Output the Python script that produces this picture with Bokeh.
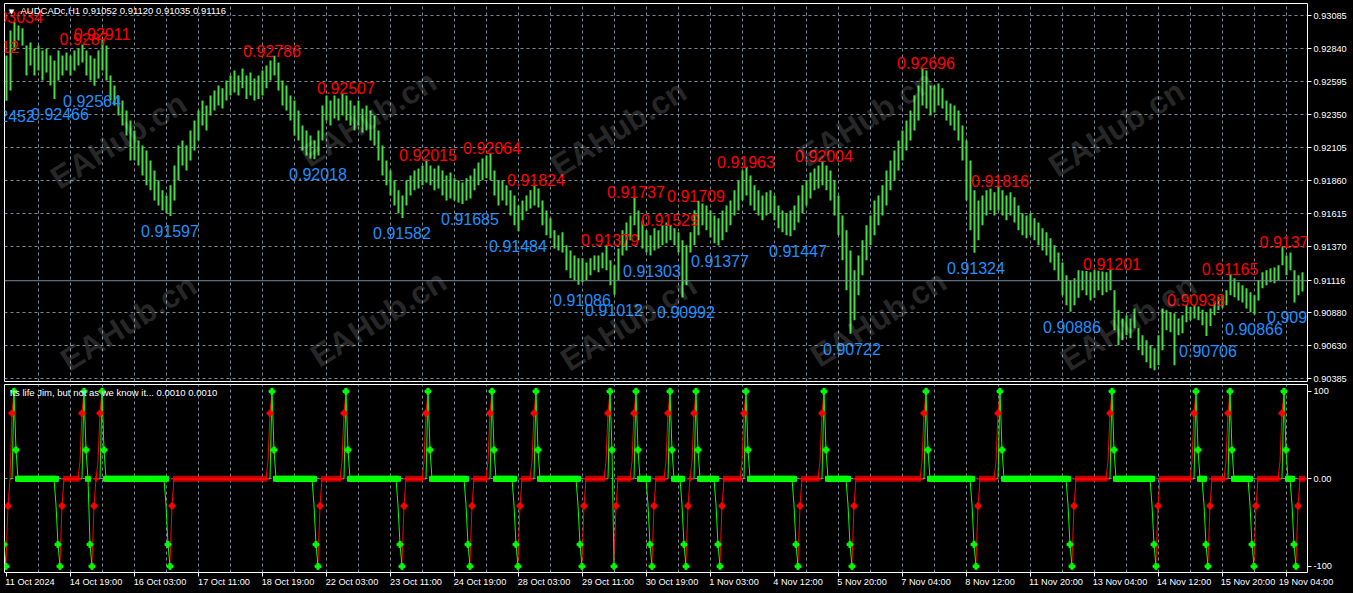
import math
from bokeh.plotting import figure
from bokeh.layouts import column
from bokeh.models import (FixedTicker, Grid, Label, Range1d, Span, AllLabels,
                          GlobalInlineStyleSheet)
from bokeh.core.properties import value
from bokeh.embed import file_html
from bokeh.resources import INLINE

# ---------------------------------------------------------------- data
SYMBOL = "AUDCADc,H1"
LAST_OHLC = ["0.91052", "0.91120", "0.91035", "0.91116"]
# prices are given in points (0.00001) above 0.90000
LAST_PRICE = 1116
LAST_PRICE_TEXT = "0.91116"

# two-hour bars (each one covers two H1 bars of the chart)
BAR_HIGH = [
    2788, 2974, 3034, 3011, 2990, 2862, 2885, 2840, 2862, 2825,
    2840, 2788, 2751, 2825, 2788, 2810, 2788, 2825, 2840, 2870,
    2825, 2788, 2766, 2825, 2911, 2862, 2640, 2566, 2491, 2454,
    2380, 2306, 2232, 2157, 2120, 2083, 2009, 1935, 1861, 1787,
    1749, 1824, 1972, 2120, 2157, 2120, 2232, 2306, 2380, 2454,
    2417, 2491, 2529, 2566, 2544, 2603, 2640, 2677, 2640, 2692,
    2640, 2662, 2618, 2640, 2677, 2714, 2751, 2786, 2736, 2603,
    2566, 2491, 2454, 2380, 2269, 2232, 2195, 2157, 2232, 2417,
    2491, 2454, 2491, 2469, 2507, 2491, 2454, 2417, 2454, 2395,
    2417, 2380, 2343, 2232, 2120, 2009, 1935, 1861, 1787, 1749,
    1861, 1898, 1935, 1950, 1972, 2015, 1972, 1950, 1972, 1935,
    1898, 1920, 1876, 1861, 1846, 1876, 1898, 1950, 1994, 2024,
    2046, 2064, 1935, 1861, 1861, 1824, 1787, 1749, 1675, 1712,
    1749, 1787, 1824, 1801, 1712, 1638, 1579, 1490, 1453, 1475,
    1379, 1341, 1304, 1282, 1282, 1252, 1282, 1304, 1304, 1326,
    1379, 1267, 1230, 1356, 1490, 1549, 1601, 1737, 1638, 1564,
    1490, 1453, 1505, 1490, 1527, 1549, 1529, 1505, 1475, 1416,
    1379, 1475, 1640, 1709, 1690, 1675, 1638, 1601, 1579, 1638,
    1675, 1712, 1787, 1861, 1935, 1963, 1898, 1824, 1787, 1749,
    1772, 1787, 1749, 1675, 1638, 1616, 1638, 1675, 1749, 1824,
    1861, 1920, 1950, 1972, 2004, 1972, 1935, 1861, 1749, 1601,
    1490, 1341, 1193, 1304, 1416, 1527, 1601, 1712, 1749, 1824,
    1935, 2009, 2083, 2157, 2232, 2306, 2380, 2491, 2566, 2696,
    2677, 2566, 2566, 2581, 2544, 2454, 2432, 2417, 2380, 2269,
    2157, 2009, 1787, 1712, 1749, 1787, 1801, 1772, 1816, 1787,
    1749, 1772, 1735, 1675, 1616, 1601, 1616, 1579, 1549, 1505,
    1475, 1431, 1379, 1326, 1252, 1156, 1119, 1134, 1193, 1190,
    1188, 1178, 1193, 1190, 1185, 1178, 1201, 1045, 896, 836,
    859, 836, 910, 763, 711, 674, 637, 614, 711, 910,
    896, 881, 874, 836, 859, 933, 920, 938, 925, 900,
    880, 910, 960, 993, 1008, 1045, 1165, 1134, 1104, 1082,
    1060, 1030, 1008, 1119, 1178, 1193, 1208, 1215, 1230, 1370,
    1304, 1326, 1193, 1156, 1178,
]
BAR_LOW = [
    2452, 2529, 2825, 2900, 2862, 2640, 2714, 2640, 2677, 2603,
    2662, 2566, 2466, 2603, 2640, 2677, 2640, 2677, 2714, 2736,
    2640, 2603, 2564, 2618, 2677, 2603, 2454, 2417, 2343, 2269,
    2195, 2009, 2009, 1972, 1898, 1824, 1787, 1712, 1675, 1638,
    1616, 1597, 1712, 1861, 1972, 1935, 2009, 2083, 2157, 2269,
    2232, 2343, 2380, 2417, 2395, 2454, 2491, 2514, 2491, 2544,
    2466, 2491, 2454, 2466, 2491, 2544, 2603, 2640, 2529, 2417,
    2380, 2306, 2195, 2157, 2083, 2046, 2024, 2018, 2046, 2157,
    2306, 2269, 2321, 2306, 2343, 2306, 2269, 2232, 2269, 2217,
    2232, 2157, 2120, 2009, 1898, 1824, 1749, 1675, 1616, 1582,
    1675, 1749, 1787, 1801, 1824, 1846, 1824, 1787, 1801, 1749,
    1712, 1727, 1712, 1697, 1685, 1712, 1727, 1787, 1824, 1861,
    1876, 1861, 1749, 1675, 1712, 1675, 1601, 1527, 1484, 1564,
    1631, 1653, 1675, 1660, 1527, 1453, 1431, 1356, 1341, 1326,
    1193, 1134, 1119, 1086, 1104, 1119, 1156, 1193, 1178, 1208,
    1193, 1082, 1012, 1119, 1304, 1341, 1416, 1527, 1416, 1356,
    1326, 1303, 1341, 1356, 1379, 1394, 1416, 1379, 1326, 992,
    1082, 1326, 1379, 1453, 1527, 1490, 1438, 1394, 1377, 1416,
    1475, 1527, 1601, 1638, 1712, 1749, 1675, 1638, 1601, 1564,
    1601, 1616, 1564, 1505, 1475, 1453, 1447, 1490, 1549, 1616,
    1675, 1727, 1787, 1801, 1824, 1787, 1712, 1601, 1453, 1267,
    1045, 722, 822, 1008, 1156, 1267, 1379, 1453, 1527, 1601,
    1675, 1787, 1861, 1935, 2009, 2083, 2157, 2232, 2306, 2417,
    2395, 2343, 2365, 2417, 2395, 2306, 2269, 2232, 2157, 2009,
    1712, 1490, 1324, 1416, 1527, 1601, 1638, 1601, 1638, 1601,
    1564, 1601, 1549, 1490, 1453, 1431, 1453, 1416, 1379, 1341,
    1304, 1252, 1193, 1119, 1008, 933, 886, 933, 990, 1045,
    1008, 970, 990, 1045, 1008, 1030, 1045, 748, 637, 674,
    711, 689, 763, 600, 562, 510, 466, 451, 488, 600,
    748, 733, 488, 711, 726, 807, 822, 836, 822, 785,
    706, 780, 859, 896, 918, 933, 1008, 993, 970, 955,
    910, 881, 866, 970, 1060, 1082, 1104, 1097, 1119, 1230,
    1156, 1193, 955, 1008, 1035,
]

N_H1_BARS = 650
TIME_LABEL_STEP = 32
TIME_LABELS = ["11 Oct 2024", "14 Oct 19:00", "16 Oct 03:00", "17 Oct 11:00",
               "18 Oct 19:00", "22 Oct 03:00", "23 Oct 11:00", "24 Oct 19:00",
               "28 Oct 03:00", "29 Oct 11:00", "30 Oct 19:00", "1 Nov 03:00",
               "4 Nov 12:00", "5 Nov 20:00", "7 Nov 04:00", "8 Nov 12:00",
               "11 Nov 20:00", "13 Nov 04:00", "14 Nov 12:00", "15 Nov 20:00",
               "19 Nov 04:00"]

PRICE_TICKS = [3085, 2840, 2595, 2350, 2105, 1860, 1615, 1370, 880, 635, 390]
PRICE_TICK_LABELS = ["0.93085", "0.92840", "0.92595", "0.92350", "0.92105", "0.91860",
                     "0.91615", "0.91370", "0.90880", "0.90630", "0.90385"]

# zigzag pivots (H1 bar index, price in points, H = high / L = low, label shown)
PIVOT_BAR = [-8, 0, 4, 27, 39, 43, 48, 82, 133, 156, 170, 198, 211, 232, 243, 256,
             265, 288, 302, 304, 315, 323, 332, 340, 345, 357, 370, 396, 409, 423,
             460, 485, 497, 533, 553, 575, 595, 601, 612, 624, 639, 645]
PIVOT_PRICE = [2812, 2452, 3034, 2466, 2870, 2564, 2911, 1597, 2786, 2018, 2507, 1582,
               2015, 1685, 2064, 1484, 1824, 1086, 1379, 1012, 1737, 1303, 1529, 992,
               1709, 1377, 1963, 1447, 2004, 722, 2696, 1324, 1816, 886, 1201, 451,
               938, 706, 1165, 866, 1370, 955]
PIVOT_KIND = ["H", "L", "H", "L", "H", "L", "H", "L", "H", "L", "H", "L", "H", "L",
              "H", "L", "H", "L", "H", "L", "H", "L", "H", "L", "H", "L", "H", "L",
              "H", "L", "H", "L", "H", "L", "H", "L", "H", "L", "H", "L", "H", "L"]
PIVOT_LABELED = [True] * 35 + [False] + [True] * 6

# indicator "Its life Jim" : shape of its two lines around every pivot (bar offset, value)
IND_NAME = "Its life Jim, but not as we know it...  0.0010 0.0010"
UP_RED = [(-2, 20), (-1, 75), (0, 100), (1, None)]
UP_GREEN = [(-1, 0), (0, 100), (1, 33), (2, 0)]
UP_RED_MARK = [-1]
UP_GREEN_MARK = [0, 1]
DOWN_GREEN = [(-2, -30), (-1, -75), (0, -100), (1, None)]
DOWN_RED = [(-1, None), (0, -95), (1, -31), (2, 0)]
DOWN_GREEN_MARK = [-1, 0]
DOWN_RED_MARK = [1]
IND_TICKS = [100, 0, -100]
IND_TICK_LABELS = ["100", "0.00", "-100"]

WATERMARK = "EAHub.cn"
# centres in window pixels
WATERMARK_CENTERS = [(118, 140), (368, 118), (618, 128), (866, 118), (1116, 128),
                     (128, 322), (378, 318), (628, 322), (878, 318), (1128, 322)]

# ---------------------------------------------------------------- layout
W = 1353
MAIN_H, SUB_H = 382, 211
BL, BR = 4, 46
FRAME_W = W - BL - BR                       # 1303
X0, X1 = -0.75, 650.75                      # bar i is drawn at window x = 5.5 + 2 i
PXB = FRAME_W / (X1 - X0)                   # 2 px per H1 bar
PPX = 245.0 / 33.0                          # price points per pixel
MY1 = 3085 + 12 * PPX                       # frame top at y = 3
MY0 = 3085 - 366 * PPX                      # frame bottom at y = 381
SY1 = (478.3 - 384) / 0.875
SY0 = (478.3 - 572) / 0.875
GRID_COLOR = "#778899"
BAR_COLOR = "#44dd44"
FONT = "Liberation Sans"
AX_FS = "9.2px"
TITLE_FS = "9.5px"

GlobalCss = GlobalInlineStyleSheet(css="html, body { background-color: #000000; }")
xr = Range1d(X0, X1)


def base_fig(height, yr, bottom, top_border):
    f = figure(width=W, height=height, x_range=xr, y_range=yr,
               output_backend="svg", toolbar_location=None,
               x_axis_location="below" if bottom else None, y_axis_location="right",
               min_border_left=BL, min_border_right=BR, min_border_top=top_border,
               min_border_bottom=21 if bottom else 1,
               background_fill_color="black", border_fill_color="black",
               outline_line_color="white", outline_line_width=1)
    f.grid.visible = False
    f.add_layout(Grid(dimension=0, ticker=FixedTicker(ticks=list(range(16, N_H1_BARS, 16))),
                      grid_line_color=GRID_COLOR, grid_line_dash="3 3"))
    ya = f.yaxis[0]
    ya.axis_line_color = None
    ya.major_tick_out = 4
    ya.major_tick_in = 0
    ya.minor_tick_out = 0
    ya.major_tick_line_color = "white"
    ya.major_label_text_color = "white"
    ya.major_label_text_font = FONT
    ya.major_label_text_font_size = AX_FS
    ya.major_label_standoff = 2
    ya.major_label_policy = AllLabels()
    return f


def wm_main(xy):
    x, y = xy
    return (x - 5.5) / 2.0, 3085 - (y - 15) * PPX


# ---------------------------------------------------------------- main chart
main = base_fig(MAIN_H, Range1d(MY0, MY1), False, 3)
main.add_layout(Grid(dimension=1, ticker=FixedTicker(ticks=PRICE_TICKS),
                     grid_line_color=GRID_COLOR, grid_line_dash="3 3"))
main.yaxis.ticker = FixedTicker(ticks=PRICE_TICKS + [LAST_PRICE])
ovr = dict(zip(PRICE_TICKS, PRICE_TICK_LABELS))
ovr[LAST_PRICE] = LAST_PRICE_TEXT
main.yaxis.major_label_overrides = ovr

bar_x = [2 * j + 0.25 for j in range(len(BAR_HIGH))]
main.vbar(x=bar_x, top=BAR_HIGH, bottom=BAR_LOW, width=1.0,
          fill_color=BAR_COLOR, line_color=None)

main.add_layout(Span(location=LAST_PRICE, dimension="width",
                     line_color=GRID_COLOR, line_width=1))


def fmt(p):
    return ("%.5f" % (0.9 + p / 1e5)).rstrip("0")


sel = list(zip(PIVOT_BAR, PIVOT_PRICE, PIVOT_KIND, PIVOT_LABELED))
hx = [b for b, p, k, s in sel if k == "H" and s]
hy = [p for b, p, k, s in sel if k == "H" and s]
lx = [b for b, p, k, s in sel if k == "L" and s]
ly = [p for b, p, k, s in sel if k == "L" and s]
main.text(x=hx, y=hy, text=[fmt(p) for p in hy], text_color="#ff0000",
          text_align="center", text_baseline="middle", y_offset=-5,
          text_font=value(FONT), text_font_size="16px")
main.text(x=lx, y=ly, text=[fmt(p) for p in ly], text_color="#1e90ff",
          text_align="center", text_baseline="middle", y_offset=15,
          text_font=value(FONT), text_font_size="16px")

main.add_layout(Label(x=X0 + 7 / PXB, y=MY1 - 8 * PPX, text="\u25bc",
                      text_color="white", text_font="DejaVu Sans", text_font_size="7px",
                      text_baseline="middle", text_align="center"))
main.add_layout(Label(x=X0 + 16 / PXB, y=MY1 - 7 * PPX,
                      text=SYMBOL + "  " + " ".join(LAST_OHLC),
                      text_color="white", text_font=FONT, text_font_size=TITLE_FS,
                      text_baseline="middle", text_align="left"))

wx = [wm_main(c)[0] for c in WATERMARK_CENTERS]
wy = [wm_main(c)[1] for c in WATERMARK_CENTERS]
main.text(x=wx, y=wy, text=[WATERMARK] * len(wx), angle=math.radians(32),
          text_align="center", text_baseline="middle", text_color="#ffffff",
          text_alpha=0.16, text_font=value("Liberation Sans"), text_font_style="bold",
          text_font_size="32px")

# ---------------------------------------------------------------- indicator
sub = base_fig(SUB_H, Range1d(SY0, SY1), True, 2)
sub.add_layout(Grid(dimension=1, ticker=FixedTicker(ticks=[0]),
                    grid_line_color=GRID_COLOR, grid_line_dash="3 3"))
sub.yaxis.ticker = FixedTicker(ticks=IND_TICKS)
sub.yaxis.major_label_overrides = dict(zip(IND_TICKS, IND_TICK_LABELS))

START = -12
n = N_H1_BARS - START
red = [0.0] * n
green = [0.0] * n
wr_r = [False] * n
wr_g = [False] * n
rmx, rmy, gmx, gmy = [], [], [], []


def put(arr, wr, bar, v, lead):
    i = bar - START
    if i < 0 or i >= n:
        return False
    if lead and wr[i]:
        return False
    arr[i] = float("nan") if v is None else v
    wr[i] = True
    return True


for b, k in zip(PIVOT_BAR, PIVOT_KIND):
    if k == "H":
        rt, gt, rm, gm = UP_RED, UP_GREEN, UP_RED_MARK, UP_GREEN_MARK
    else:
        rt, gt, rm, gm = DOWN_RED, DOWN_GREEN, DOWN_RED_MARK, DOWN_GREEN_MARK
    for off, v in rt:
        if put(red, wr_r, b + off, v, off < 0) and off in rm and v is not None:
            rmx.append(b + off); rmy.append(v)
    for off, v in gt:
        if put(green, wr_g, b + off, v, off < 0) and off in gm and v is not None:
            gmx.append(b + off); gmy.append(v)

ix = list(range(START, N_H1_BARS))
sub.line(ix, red, line_color="#ff0000", line_width=1)
sub.line(ix, green, line_color="#00ff00", line_width=1)

# zero-level state markers between pivots
zgx, zrx = [], []
for i, (b, k) in enumerate(zip(PIVOT_BAR, PIVOT_KIND)):
    if i + 1 < len(PIVOT_BAR):
        nb, nk = PIVOT_BAR[i + 1], PIVOT_KIND[i + 1]
        end = nb - (2 if nk == "L" else 3)
    else:
        end = N_H1_BARS - 1
    rng = [x for x in range(b + 2, end + 1) if 0 <= x < N_H1_BARS]
    (zgx if k == "H" else zrx).extend(rng)

sub.scatter(zgx, [0] * len(zgx), marker="square", size=5, fill_color="#00ff00",
            line_color="#00ff00")
sub.scatter(zrx, [0] * len(zrx), marker="cross", size=6, line_color="#ff0000",
            line_width=1.5)
sub.scatter(rmx, rmy, marker="plus", size=6, fill_color="#ff0000", line_color="#ff0000")
sub.scatter(gmx, gmy, marker="plus", size=6, fill_color="#00ff00", line_color="#00ff00")

sub.add_layout(Label(x=X0 + 5.3 / PXB, y=(478.3 - 392.3) / 0.875, text=IND_NAME,
                     text_color="white", text_font=FONT, text_font_size=TITLE_FS,
                     text_baseline="middle", text_align="left"))

# time axis: each label starts at its bar, so its tick sits at the label middle
CW = {" ": 0.278, ":": 0.278, "O": 0.778, "c": 0.5, "t": 0.278, "N": 0.722,
      "o": 0.556, "v": 0.5}


def text_w(s, fs=9.2):
    return sum(CW.get(ch, 0.556) for ch in s) * fs


lab_ticks, overrides, bars_at = [], {}, []
for i, lab in enumerate(TIME_LABELS):
    b = i * TIME_LABEL_STEP
    c = int(round(b + (text_w(lab) / 2 - 0.5) / PXB))
    c = min(c, 650)
    lab_ticks.append(c)
    overrides[c] = lab
    bars_at.append(b)

xa = sub.xaxis[0]
xa.ticker = FixedTicker(ticks=lab_ticks, minor_ticks=bars_at)
xa.major_label_overrides = overrides
xa.major_label_policy = AllLabels()
xa.axis_line_color = None
xa.major_tick_out = 0
xa.major_tick_in = 0
xa.minor_tick_out = 4
xa.minor_tick_in = 0
xa.minor_tick_line_color = "white"
xa.major_label_text_color = "white"
xa.major_label_text_font = FONT
xa.major_label_text_font_size = AX_FS
xa.major_label_standoff = 0

layout = column(main, sub, spacing=0, stylesheets=[GlobalCss])
open("out.html", "w").write(file_html(layout, INLINE))
